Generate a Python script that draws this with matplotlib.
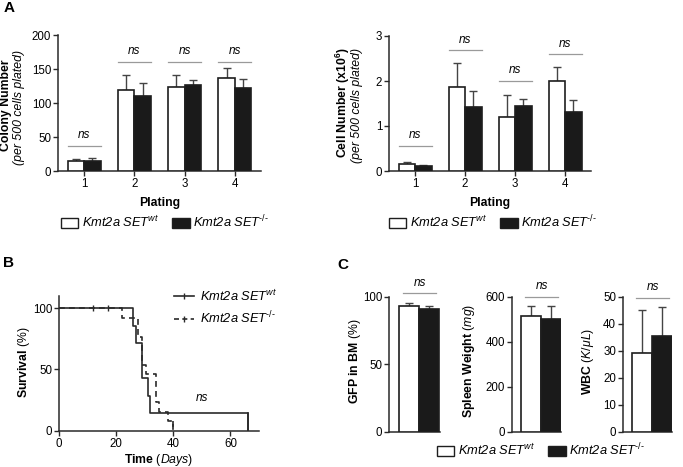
import matplotlib
matplotlib.use("Agg")
import matplotlib.pyplot as plt
from matplotlib.patches import Patch
from matplotlib.lines import Line2D
import numpy as np

plt.rcParams['font.family'] = ['Liberation Sans', 'DejaVu Sans']
plt.rcParams['mathtext.fontset'] = 'custom'
plt.rcParams['mathtext.rm'] = 'Liberation Sans'
plt.rcParams['mathtext.it'] = 'Liberation Sans:italic'
plt.rcParams['mathtext.bf'] = 'Liberation Sans:bold'
plt.rcParams['font.size'] = 8

# ---------------- data ----------------
platings = [1, 2, 3, 4]
colony_wt = [14, 119, 123, 137]
colony_wt_sd = [3, 22, 18, 15]
colony_ko = [15, 110, 126, 122]
colony_ko_sd = [4, 19, 8, 14]
colony_ns_y = [37, 161, 161, 161]

cells_wt = [0.16, 1.87, 1.21, 1.99]
cells_wt_sd = [0.03, 0.54, 0.47, 0.32]
cells_ko = [0.11, 1.42, 1.44, 1.30]
cells_ko_sd = [0.03, 0.36, 0.17, 0.28]
cells_ns_y = [0.56, 2.68, 2.0, 2.59]

# Kaplan-Meier steps (time, survival after event)
km_wt_t = [0, 26, 27, 29, 31, 32, 66]
km_wt_s = [100, 85.7, 71.4, 42.9, 28.6, 14.3, 0]
km_wt_censor = [12, 17]
km_ko_t = [0, 22, 27.5, 29, 30.5, 34, 35, 38, 40]
km_ko_s = [100, 92.3, 76.9, 53.8, 46.2, 23.1, 15.4, 7.7, 0]

gfp = [93.3, 91.1]
gfp_sd = [1.8, 1.7]
spleen = [513, 499]
spleen_sd = [44, 58]
wbc = [29.1, 35.4]
wbc_sd = [15.8, 10.9]

lab_wt = "Kmt2a SET" + r"$^{\mathit{wt}}$"
lab_ko = "Kmt2a SET" + r"$^{\mathit{‐/‐}}$"

EDGE = '#1e1e1e'
BLACK = '#1a1a1a'
NSGRAY = '#9a9a9a'
FS_LAB = 8.8
FS_TICK = 8.3
FS_LEG = 9.3
LEG_PROP = {'size': FS_LEG, 'style': 'italic'}

W_PX, H_PX = 683, 467
fig = plt.figure(figsize=(6.83, 4.67), dpi=100)


def ftext(xp, yp, s, **kw):
    return fig.text(xp / W_PX, 1 - yp / H_PX, s, **kw)


def style_ax(ax):
    for s in ['top', 'right']:
        ax.spines[s].set_visible(False)
    for s in ['left', 'bottom']:
        ax.spines[s].set_linewidth(1.1)
        ax.spines[s].set_color('#2a2a2a')
    ax.tick_params(direction='out', length=3.5, width=1.0, color='#2a2a2a',
                   labelsize=FS_TICK, pad=1.5)


def ns_mark(ax, x0, x1, y):
    ax.plot([x0, x1], [y, y], color=NSGRAY, lw=0.9, clip_on=False)
    ax.annotate('ns', xy=((x0 + x1) / 2, y), xytext=(0, 5.5),
                textcoords='offset points', ha='center', va='baseline',
                style='italic', fontsize=8.5, annotation_clip=False)


def bar_pair(ax, x, wt, wt_sd, ko, ko_sd, w):
    x = np.asarray(x, dtype=float)
    ax.bar(x - w / 2, wt, w, color='white', edgecolor=EDGE, linewidth=1.2, zorder=3)
    ax.bar(x + w / 2, ko, w, color=BLACK, edgecolor=EDGE, linewidth=1.2, zorder=3)
    ax.errorbar(x - w / 2, wt, yerr=[np.zeros(len(x)), wt_sd], fmt='none',
                ecolor='#444444', elinewidth=1.0, capsize=3, capthick=1.0, zorder=2)
    ax.errorbar(x + w / 2, ko, yerr=[np.zeros(len(x)), ko_sd], fmt='none',
                ecolor='#444444', elinewidth=1.0, capsize=3, capthick=1.0, zorder=2)


# ---------- Panel A left ----------
W = 0.33
axA1 = fig.add_axes([58 / W_PX, 1 - 171 / H_PX, 203 / W_PX, 136 / H_PX])
bar_pair(axA1, platings, colony_wt, colony_wt_sd, colony_ko, colony_ko_sd, W)
axA1.set_xlim(0.48, 4.52)
axA1.set_ylim(0, 200)
axA1.set_yticks([0, 50, 100, 150, 200])
axA1.set_xticks(platings)
style_ax(axA1)
for x, y in zip(platings, colony_ns_y):
    ns_mark(axA1, x - W, x + W, y)
axA1.set_xlabel('Plating', fontweight='bold', fontsize=FS_LAB, labelpad=5)
ftext(6, 105, 'Colony Number', fontweight='bold', rotation=90, ha='center', va='center',
      fontsize=FS_LAB)
ftext(19, 107, '(per 500 cells plated)', style='italic', rotation=90, ha='center', va='center',
      fontsize=FS_LAB)

# ---------- Panel A right ----------
axA2 = fig.add_axes([389 / W_PX, 1 - 171 / H_PX, 202 / W_PX, 135 / H_PX])
bar_pair(axA2, platings, cells_wt, cells_wt_sd, cells_ko, cells_ko_sd, W)
axA2.set_xlim(0.48, 4.52)
axA2.set_ylim(0, 3)
axA2.set_yticks([0, 1, 2, 3])
axA2.set_xticks(platings)
style_ax(axA2)
for x, y in zip(platings, cells_ns_y):
    ns_mark(axA2, x - W, x + W, y)
axA2.set_xlabel('Plating', fontweight='bold', fontsize=FS_LAB, labelpad=5)
ftext(343, 103, r"Cell Number (x10$^{\mathbf{6}}$)", fontweight='bold', rotation=90,
      ha='center', va='center', fontsize=FS_LAB)
ftext(357, 105, '(per 500 cells plated)', style='italic', rotation=90, ha='center', va='center',
      fontsize=FS_LAB)

bar_handles = [Patch(facecolor='white', edgecolor=EDGE, linewidth=1.0),
               Patch(facecolor=BLACK, edgecolor=EDGE, linewidth=1.0)]
for cx in [165, 493]:
    fig.legend(bar_handles, [lab_wt, lab_ko], loc='center', ncol=2,
               bbox_to_anchor=(cx / W_PX, 1 - 222 / H_PX), frameon=False, prop=LEG_PROP,
               handlelength=1.35, handleheight=0.75, handletextpad=0.3,
               columnspacing=1.0, borderpad=0)

# ---------- Panel B ----------
axB = fig.add_axes([59 / W_PX, 1 - 430.7 / H_PX, 200 / W_PX, 134.7 / H_PX])
axB.step(km_wt_t, km_wt_s, where='post', color='#2a2a2a', lw=1.2)
axB.step(km_ko_t, km_ko_s, where='post', color='#2a2a2a', lw=1.2, ls=(0, (3.5, 2.5)))
axB.plot([km_ko_t[-1], km_ko_t[-1]], [km_ko_s[-2], 0], color='#2a2a2a', lw=1.2, ls=(0, (3.5, 2.5)))
axB.plot([km_wt_t[-1], km_wt_t[-1]], [km_wt_s[-2], 0], color='#2a2a2a', lw=1.2)
axB.plot(km_wt_censor, [100] * len(km_wt_censor), ls='none', marker='|',
         markersize=4, color='#2a2a2a', mew=1.0)
axB.set_xlim(0, 70)
axB.set_ylim(0, 110)
axB.set_xticks([0, 20, 40, 60])
axB.set_yticks([0, 50, 100])
style_ax(axB)
axB.text(50, 27, 'ns', style='italic', fontsize=8.5, ha='center', va='center')
axB.set_xlabel(r"$\mathbf{Time}$ $\mathit{(Days)}$", fontsize=FS_LAB, labelpad=2)
ftext(24, 362, r"$\mathbf{Survival}$ (%)", rotation=90, ha='center', va='center', fontsize=FS_LAB)
km_handles = [Line2D([], [], color='#2a2a2a', lw=1.2, marker='|', markersize=5),
              Line2D([], [], color='#2a2a2a', lw=1.2, ls=(0, (3, 2)), marker='|', markersize=4)]
axB.legend(km_handles, [lab_wt, lab_ko], loc='upper left',
           bbox_to_anchor=(0.545, 1.105), frameon=False, prop=LEG_PROP,
           handlelength=1.5, handletextpad=0.5, labelspacing=0.5, borderpad=0)

# ---------- Panel C ----------
c_specs = [
    (389, 51, gfp, gfp_sd, (0, 100), [0, 50, 100], (-1.0, 1.55), 102.5,
     r"$\mathbf{GFP\ in\ BM}$ (%)", 355),
    (511.7, 49.3, spleen, spleen_sd, (0, 600), [0, 200, 400, 600], (-0.97, 1.5), 600,
     r"$\mathbf{Spleen\ Weight}$ $\mathit{(mg)}$", 469),
    (623, 49, wbc, wbc_sd, (0, 50), [0, 10, 20, 30, 40, 50], (-0.95, 1.5), 49.6,
     r"$\mathbf{WBC}$ ($\mathit{K/μL}$)", 587.5),
]
for left, width, vals, sds, ylim, yt, xlim, nsy, ylab, labx in c_specs:
    ax = fig.add_axes([left / W_PX, 1 - 431.7 / H_PX, width / W_PX, 135 / H_PX])
    ax.bar([0], [vals[0]], 1.0, color='white', edgecolor=EDGE, linewidth=1.2, zorder=3)
    ax.bar([1], [vals[1]], 1.0, color=BLACK, edgecolor=EDGE, linewidth=1.2, zorder=3)
    ax.errorbar([0, 1], vals, yerr=[[0, 0], sds], fmt='none', ecolor='#444444',
                elinewidth=1.0, capsize=3, capthick=1.0, zorder=2)
    ax.set_xlim(*xlim)
    ax.set_ylim(*ylim)
    ax.set_yticks(yt)
    ax.set_xticks([])
    style_ax(ax)
    ns_mark(ax, -0.3, 1.35, nsy)
    ftext(labx, 361, ylab, rotation=90, ha='center', va='center', fontsize=FS_LAB)

fig.legend(bar_handles, [lab_wt, lab_ko], loc='center', ncol=2,
           bbox_to_anchor=(541 / W_PX, 1 - 450 / H_PX), frameon=False, prop=LEG_PROP,
           handlelength=1.35, handleheight=0.75, handletextpad=0.3,
           columnspacing=1.0, borderpad=0)

# panel letters
ftext(4, 8, 'A', fontweight='bold', fontsize=11, va='center')
ftext(3, 263, 'B', fontweight='bold', fontsize=11, va='center')
ftext(337, 265, 'C', fontweight='bold', fontsize=11, va='center')

fig.savefig('out.png', dpi=100)
